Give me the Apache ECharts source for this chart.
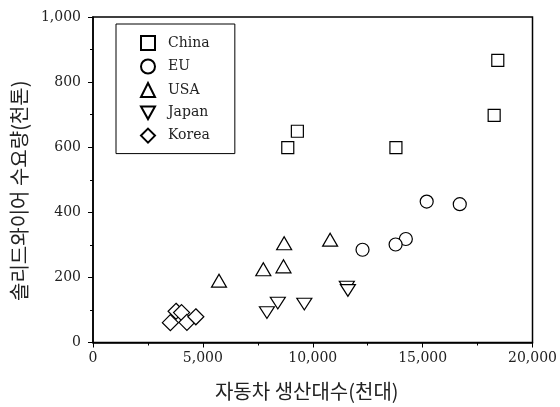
<!DOCTYPE html>
<html><head><meta charset="utf-8">
<script src="https://cdn.jsdelivr.net/npm/echarts@6/dist/echarts.min.js"></script>
<style>html,body{margin:0;padding:0;background:#fff}#c{width:560px;height:407px}</style>
</head><body><div id="c"></div>
<script>
const seriesNames = ['China', 'EU', 'USA', 'Japan', 'Korea'];
const china = [[18420, 867], [18255, 698], [9300, 649], [8863, 599], [13785, 599]];
const eu = [[15185, 433], [16690, 425], [14236, 318], [13770, 301], [12265, 285]];
const usa = [[8698, 305], [10790, 316], [7750, 225], [8668, 234], [5734, 190]];
const japan = [[11550, 170], [11600, 160], [8410, 121], [9616, 118], [7915, 92]];
const korea = [[3520, 61], [3780, 96], [4030, 92], [4274, 62], [4680, 79]];
const xTickLabels = ['0', '5,000', '10,000', '15,000', '20,000'];
const yTickLabels = ['0', '200', '400', '600', '800', '1,000'];
const xTitle = '자동차 생산대수(천대)';
const yTitle = '솔리드와이어 수요량(천톤)';

const serif = "'DejaVu Serif', 'Liberation Serif', serif";
const kr = "'Noto Sans CJK KR', sans-serif";
const symbols = ['rect', 'circle', 'triangle', 'path://M0,0 L10,0 L5,9 Z', 'diamond'];
const sizes = [[12, 12], [13, 13], [15, 13], [15, 13], [16, 16]];
const datasets = [china, eu, usa, japan, korea];

const chart = echarts.init(document.getElementById('c'));
chart.setOption({
  animation: false,
  backgroundColor: '#fff',
  grid: { left: 93, right: 24, top: 17, bottom: 64.5, show: true, borderColor: '#000', borderWidth: 1.5 },
  legend: {
    orient: 'vertical', left: 116, top: 24,
    itemWidth: 14, itemHeight: 14, itemGap: 7.5,
    symbolKeepAspect: true,
    padding: [11, 25, 10, 24],
    borderColor: '#000', borderWidth: 1, backgroundColor: '#fff',
    textStyle: { fontFamily: serif, fontSize: 14, color: '#222', padding: [0, 0, 0, 8] },
    data: seriesNames
  },
  xAxis: {
    type: 'value', min: 0, max: 20000, interval: 5000,
    axisLine: { show: true, lineStyle: { color: '#000', width: 1.5 } },
    axisTick: { show: true, inside: false, length: 5, lineStyle: { color: '#000' } },
    minorTick: { show: true, splitNumber: 2, length: 3, lineStyle: { color: '#000' } },
    splitLine: { show: false },
    axisLabel: { margin: 9, fontFamily: serif, fontSize: 14, color: '#222',
      formatter: v => xTickLabels[Math.round(v / 5000)] },
    name: xTitle, nameLocation: 'middle', nameGap: 39,
    nameTextStyle: { fontFamily: kr, fontSize: 20, color: '#222', padding: [0, 12, 0, 0] }
  },
  yAxis: {
    type: 'value', min: 0, max: 1000, interval: 200,
    axisLine: { show: true, lineStyle: { color: '#000', width: 1.5 } },
    axisTick: { show: true, inside: false, length: 5, lineStyle: { color: '#000' } },
    minorTick: { show: true, splitNumber: 2, length: 3, lineStyle: { color: '#000' } },
    splitLine: { show: false },
    axisLabel: { margin: 12, fontFamily: serif, fontSize: 14, color: '#222',
      formatter: v => yTickLabels[Math.round(v / 200)] },
    name: yTitle, nameLocation: 'middle', nameGap: 64,
    nameTextStyle: { fontFamily: kr, fontSize: 20, color: '#222', padding: [0, 22, 0, 0] }
  },
  series: seriesNames.map((n, i) => ({
    name: n, type: 'scatter', data: datasets[i],
    symbol: symbols[i], symbolSize: sizes[i], symbolKeepAspect: true,
    itemStyle: { color: '#fff', borderColor: '#000', borderWidth: 1.2, opacity: 1 }
  }))
});
</script></body></html>
